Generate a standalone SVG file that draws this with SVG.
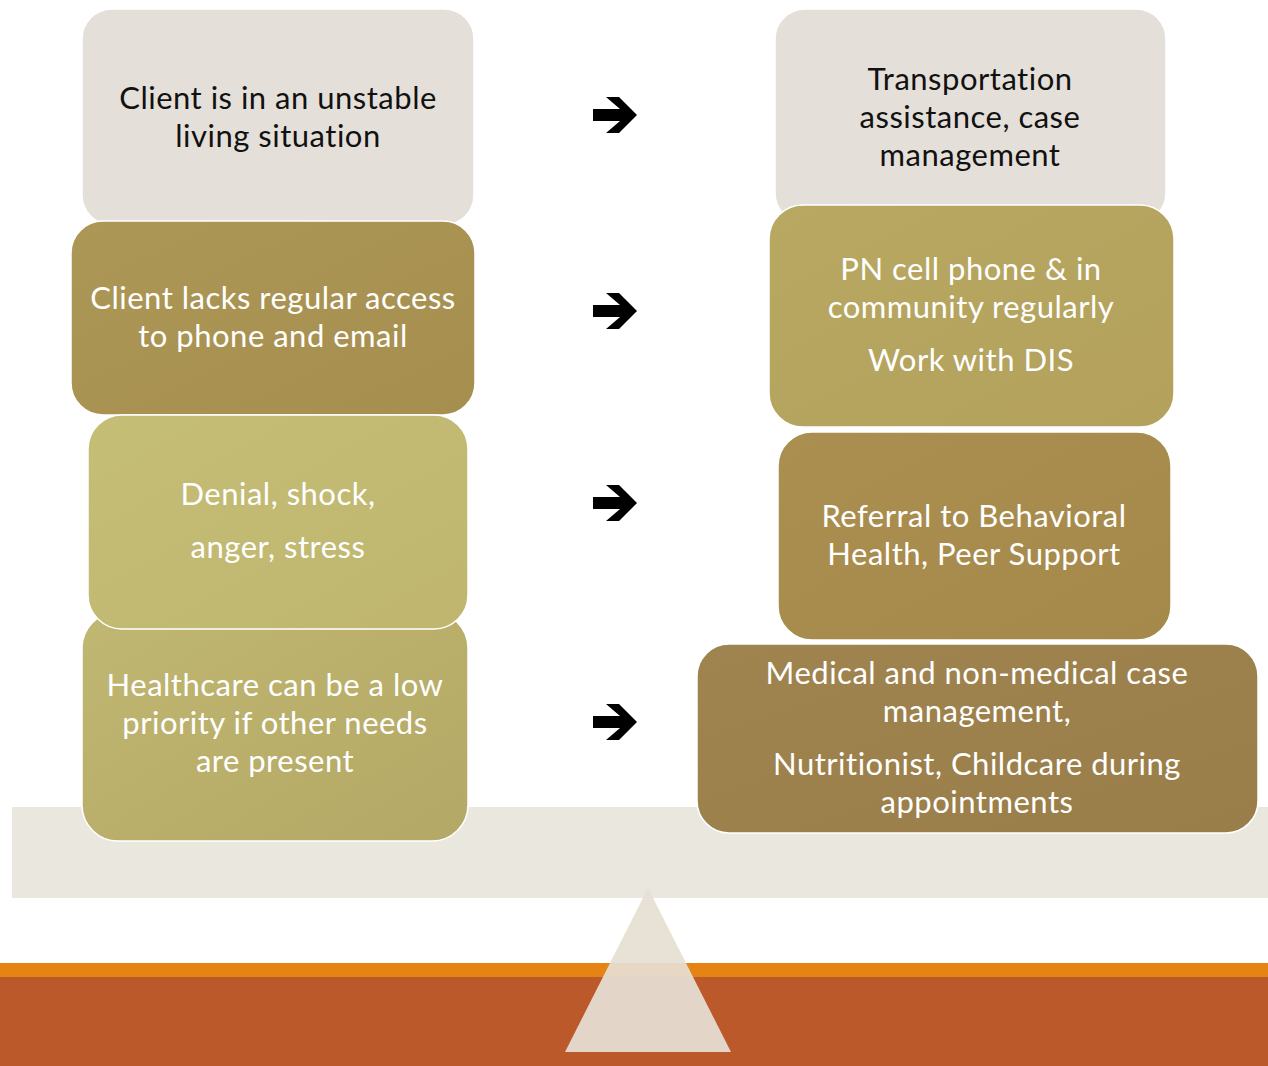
<svg xmlns="http://www.w3.org/2000/svg" width="1268" height="1066" viewBox="0 0 1268 1066">
<style>
.box{stroke:#ffffff;stroke-width:1.5}
.t{font-family:Lato,"Open Sans",sans-serif;font-size:31px;letter-spacing:0.5px;font-variant-ligatures:none;text-anchor:middle}
.dk{fill:#111111}
.lt{fill:#ffffff}
.arr{fill:#000000}
</style>
<defs>
<linearGradient id="gL2" x1="0" y1="0" x2="1" y2="1"><stop offset="0" stop-color="#AD9756"/><stop offset="1" stop-color="#A68F4E"/></linearGradient>
<linearGradient id="gL3" x1="0" y1="0" x2="1" y2="1"><stop offset="0" stop-color="#C5BE77"/><stop offset="1" stop-color="#BFB56F"/></linearGradient>
<linearGradient id="gL4" x1="0" y1="0" x2="1" y2="1"><stop offset="0" stop-color="#C0B772"/><stop offset="1" stop-color="#B3A865"/></linearGradient>
<linearGradient id="gR2" x1="0" y1="0" x2="1" y2="1"><stop offset="0" stop-color="#B8A862"/><stop offset="1" stop-color="#B3A15C"/></linearGradient>
<linearGradient id="gR3" x1="0" y1="0" x2="1" y2="1"><stop offset="0" stop-color="#AB8F50"/><stop offset="1" stop-color="#A5894A"/></linearGradient>
<linearGradient id="gR4" x1="0" y1="0" x2="1" y2="1"><stop offset="0" stop-color="#A0844F"/><stop offset="1" stop-color="#9A7E4A"/></linearGradient>
<g id="arrow"><polygon points="0,-6 27,-6 13,-18 26,-18 44,0 26,18 13,18 27,6 0,6"/></g>
</defs>
<rect width="1268" height="1066" fill="#ffffff"/>
<g id="base">
<rect x="12" y="807" width="1256" height="91" fill="#EAE8DE"/>
<rect x="0" y="963" width="1268" height="14" fill="#E58313"/>
<rect x="0" y="977" width="1268" height="89" fill="#BC592B"/>
<polygon points="648,888 731,1052 565,1052" fill="#E6DFD3" fill-opacity="0.93"/>
</g>
<g id="left1"><rect class="box" x="82" y="9" width="392" height="216" rx="30" fill="#E4E0D9"/>
<text class="t dk" x="278" y="109">Client is in an unstable</text><text class="t dk" x="278" y="147">living situation</text></g>
<g id="left2"><rect class="box" x="71" y="221" width="404" height="194" rx="32" fill="url(#gL2)"/>
<text class="t lt" x="273" y="309">Client lacks regular access</text><text class="t lt" x="273" y="347">to phone and email</text></g>
<g id="left4"><rect class="box" x="82" y="612" width="386" height="229" rx="36" fill="url(#gL4)"/>
<text class="t lt" x="275" y="696">Healthcare can be a low</text><text class="t lt" x="275" y="734">priority if other needs</text><text class="t lt" x="275" y="772">are present</text></g>
<g id="left3"><rect class="box" x="88" y="415" width="380" height="214" rx="34" fill="url(#gL3)"/>
<text class="t lt" x="278" y="505">Denial, shock,</text><text class="t lt" x="278" y="558">anger, stress</text></g>
<g id="right1"><rect class="box" x="775" y="9" width="391" height="214" rx="30" fill="#E4E0D9"/>
<text class="t dk" x="970" y="90">Transportation</text><text class="t dk" x="970" y="128">assistance, case</text><text class="t dk" x="970" y="166">management</text></g>
<g id="right2"><rect class="box" x="769" y="205" width="405" height="222" rx="34" fill="url(#gR2)"/>
<text class="t lt" x="971" y="280">PN cell phone &amp; in</text><text class="t lt" x="971" y="318">community regularly</text><text class="t lt" x="971" y="371">Work with DIS</text></g>
<g id="right3"><rect class="box" x="778" y="432" width="393" height="208" rx="34" fill="url(#gR3)"/>
<text class="t lt" x="974" y="527">Referral to Behavioral</text><text class="t lt" x="974" y="565">Health, Peer Support</text></g>
<g id="right4"><rect class="box" x="697" y="644" width="561" height="189" rx="32" fill="url(#gR4)"/>
<text class="t lt" x="977" y="684">Medical and non-medical case</text><text class="t lt" x="977" y="722">management,</text><text class="t lt" x="977" y="775">Nutritionist, Childcare during</text><text class="t lt" x="977" y="813">appointments</text></g>
<g id="connectors" class="arr">
<use href="#arrow" x="593" y="115"/>
<use href="#arrow" x="593" y="311"/>
<use href="#arrow" x="593" y="503"/>
<use href="#arrow" x="593" y="722"/>
</g>
</svg>
